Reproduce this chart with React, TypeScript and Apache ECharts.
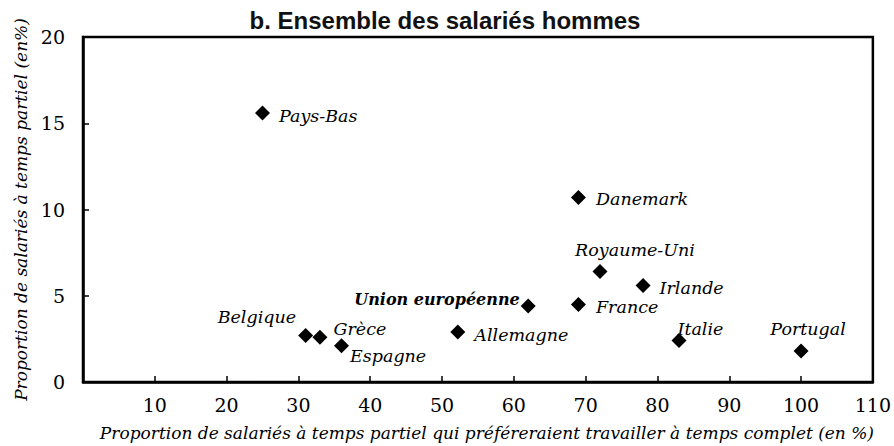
import React, { useEffect, useRef } from "react";
import * as echarts from "echarts";

const countries = [
  "Pays-Bas", "Danemark", "Royaume-Uni", "Irlande", "Union européenne", "France",
  "Allemagne", "Italie", "Portugal", "Belgique", "Grèce", "Espagne",
];
const xValues = [25, 69, 72, 78, 62, 69, 52.2, 83, 100, 31, 33, 36];
const yValues = [15.6, 10.7, 6.4, 5.6, 4.4, 4.5, 2.9, 2.4, 1.8, 2.7, 2.6, 2.1];

const title = "b. Ensemble des salariés hommes";
const xTitle = "Proportion de salariés à temps partiel qui préféreraient travailler à temps complet (en %)";
const yTitle = "Proportion de salariés à temps partiel (en%)";

const labelPlacement: Record<string, { position: string; offset: number[]; bold?: boolean }> = {
  "Pays-Bas": { position: "right", offset: [4, 3] },
  "Danemark": { position: "right", offset: [5, 2] },
  "Royaume-Uni": { position: "top", offset: [35, 0] },
  "Irlande": { position: "right", offset: [4, 3] },
  "Union européenne": { position: "left", offset: [4, -7], bold: true },
  "France": { position: "right", offset: [5, 3] },
  "Allemagne": { position: "right", offset: [4, 3] },
  "Italie": { position: "right", offset: [-14, -12] },
  "Portugal": { position: "top", offset: [7, 0] },
  "Belgique": { position: "left", offset: [3, -18] },
  "Grèce": { position: "right", offset: [1, -8] },
  "Espagne": { position: "right", offset: [-4, 10] },
};

const SERIF = "DejaVu Serif";

export default function App() {
  const ref = useRef<HTMLDivElement>(null);
  useEffect(() => {
    if (!ref.current) return;
    const chart = echarts.init(ref.current, undefined, { renderer: "svg" });
    const data = countries.map((name, i) => {
      const p = labelPlacement[name];
      return {
        name,
        value: [xValues[i], yValues[i]],
        label: {
          show: true,
          position: p.position,
          offset: p.offset,
          fontWeight: p.bold ? "bold" : "normal",
          fontSize: p.bold ? 16 : 17.5,
        },
      };
    });
    chart.setOption({
      animation: false,
      backgroundColor: "#ffffff",
      title: {
        text: title,
        left: 440,
        textAlign: "center",
        top: 3,
        textStyle: {
          fontFamily: "Liberation Sans",
          fontWeight: "bold",
          fontSize: 24,
          color: "#111",
        },
      },
      grid: {
        left: 83,
        right: 20,
        top: 37,
        bottom: 62,
        show: true,
        borderColor: "#000",
        borderWidth: 2.5,
        containLabel: false,
      },
      xAxis: {
        type: "value",
        min: 0,
        max: 110,
        interval: 10,
        name: xTitle,
        nameLocation: "middle",
        nameGap: 42,
        nameTextStyle: {
          fontFamily: SERIF,
          fontStyle: "italic",
          fontSize: 17,
          color: "#000",
          padding: [0, 0, 0, 18],
        },
        axisLine: { show: true, lineStyle: { color: "#000", width: 2.5 } },
        axisTick: { show: true, inside: true, length: 6, lineStyle: { color: "#000", width: 1.5 } },
        axisLabel: {
          fontFamily: SERIF,
          fontSize: 19,
          color: "#000",
          margin: 13,
          formatter: (v: number) => (v === 0 ? "" : String(v)),
        },
        splitLine: { show: false },
      },
      yAxis: {
        type: "value",
        min: 0,
        max: 20,
        interval: 5,
        name: yTitle,
        nameLocation: "middle",
        nameGap: 48,
        nameTextStyle: { fontFamily: SERIF, fontStyle: "italic", fontSize: 17, color: "#000" },
        axisLine: { show: true, lineStyle: { color: "#000", width: 2.5 } },
        axisTick: { show: true, inside: true, length: 6, lineStyle: { color: "#000", width: 1.5 } },
        axisLabel: { fontFamily: SERIF, fontSize: 19, color: "#000", margin: 18 },
        splitLine: { show: false },
      },
      series: [
        {
          type: "scatter",
          symbol: "diamond",
          symbolSize: 15,
          itemStyle: { color: "#000", opacity: 1 },
          label: {
            show: true,
            formatter: "{b}",
            fontFamily: SERIF,
            fontStyle: "italic",
            fontSize: 17.5,
            color: "#000",
          },
          data,
        },
      ],
    });
    return () => chart.dispose();
  }, []);
  return <div ref={ref} style={{ width: 894, height: 446, position: "absolute", left: 0, top: 0 }} />;
}
